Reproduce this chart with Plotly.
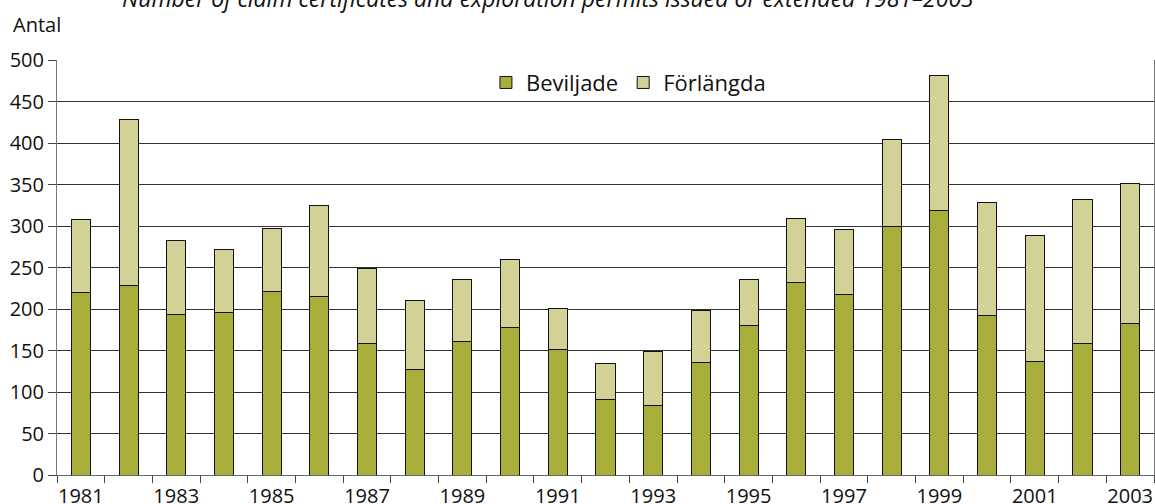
import plotly.graph_objects as go

years = list(range(1981, 2004))
beviljade = [220, 228, 193, 196, 221, 215, 158, 127, 161, 178, 151, 91, 84, 136, 180, 232, 218, 299, 319, 192, 137, 159, 183]
forlangda = [88, 200, 90, 76, 76, 110, 91, 83, 75, 82, 50, 43, 65, 62, 55, 77, 78, 105, 162, 136, 151, 173, 168]
tick_years = list(range(1981, 2004, 2))
title_text = "Number of claim certificates and exploration permits issued or extended 1981–2003"

FONT = "Open Sans"

fig = go.Figure()
fig.add_trace(go.Bar(x=years, y=beviljade, name="Beviljade", width=0.4,
                     marker=dict(color="#A9AD3A", line=dict(color="#111", width=1))))
fig.add_trace(go.Bar(x=years, y=forlangda, name="Förlängda", width=0.4,
                     marker=dict(color="#D3D296", line=dict(color="#111", width=1))))

fig.update_layout(
    barmode="stack",
    width=1155, height=504,
    margin=dict(l=57, r=1, t=60, b=29),
    plot_bgcolor="white", paper_bgcolor="white",
    font=dict(family=FONT, size=20, color="#111"),
    showlegend=True,
    legend=dict(orientation="h", x=0.391, xanchor="left", y=0.996, yanchor="top",
                font=dict(size=22), bgcolor="rgba(0,0,0,0)", traceorder="normal"),
    annotations=[
        dict(text="<i>" + title_text + "</i>", xref="paper", yref="paper",
             x=0.4476, y=1.0, yshift=62, xanchor="center", yanchor="middle",
             showarrow=False, font=dict(size=23, family=FONT)),
        dict(text="Antal", xref="paper", yref="paper", x=-0.042, y=1.0, yshift=36,
             xanchor="left", yanchor="middle", showarrow=False, font=dict(size=20, family=FONT)),
    ],
)

fig.update_xaxes(
    range=[1980.5, 2003.5], automargin=False,
    tickvals=tick_years, ticktext=[str(y) for y in tick_years],
    ticks="outside", ticklen=3, tickcolor="rgba(0,0,0,0)",
    showgrid=False, zeroline=False,
    showline=True, linecolor="#666", linewidth=1,
    tickfont=dict(size=20),
    minor=dict(tickvals=[y + 0.5 for y in range(1980, 2004)], ticks="outside",
               ticklen=7, tickcolor="#444", tickwidth=1, showgrid=False),
)
fig.update_yaxes(
    range=[0, 500], dtick=50, automargin=False,
    showgrid=True, gridcolor="#333", gridwidth=1,
    zeroline=False, showline=True, linecolor="#777", linewidth=1, mirror=True,
    ticks="outside", ticklen=8, tickcolor="#444",
    tickfont=dict(size=20),
)

fig.write_html("out.html", config={"displayModeBar": False},
               post_script="document.body.style.margin='0';document.body.style.padding='0';document.body.style.overflow='hidden';")
